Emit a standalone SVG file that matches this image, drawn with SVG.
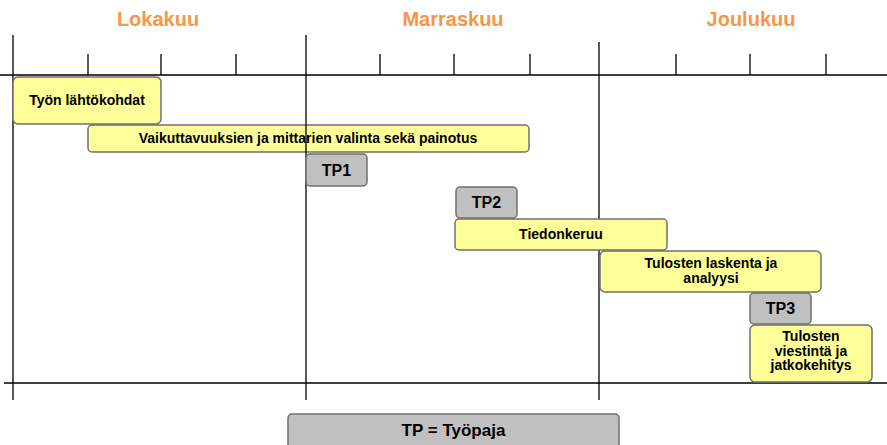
<svg xmlns="http://www.w3.org/2000/svg" width="887" height="445" viewBox="0 0 887 445">
<style>
.month{font-family:"Liberation Sans",Arial,sans-serif;font-weight:bold;font-size:20px;fill:#F79646;text-anchor:middle}
.axis{stroke:#000;stroke-width:1.3;fill:none}
.task rect{fill:#FFFF99;stroke:#707070;stroke-width:1.5}
.tp rect{fill:#C0C0C0;stroke:#707070;stroke-width:1.5}
.task text{font-family:"Liberation Sans",Arial,sans-serif;font-weight:bold;font-size:14px;fill:#000;text-anchor:middle}
.tp text{font-family:"Liberation Sans",Arial,sans-serif;font-weight:bold;font-size:16px;fill:#000;text-anchor:middle}
</style>
<rect width="887" height="445" fill="#fff"/>
<g id="months">
<text class="month" x="158" y="26">Lokakuu</text>
<text class="month" x="453" y="26">Marraskuu</text>
<text class="month" x="751" y="26">Joulukuu</text>
</g>
<g id="task2" class="task">
<rect x="88" y="125" width="441" height="27" rx="4"/>
<text x="308" y="143">Vaikuttavuuksien ja mittarien valinta sekä painotus</text>
</g>
<g id="connectors">
<path class="axis" d="M0 75H887M4 383H887M13 35V400M306 35V400M599 42V400M88 54V75M161 54V75M236 54V75M380 54V75M454 54V75M530 54V75M676 54V75M750 54V75M826 54V75"/>
</g>
<g id="task1" class="task">
<rect x="13" y="77" width="148" height="47" rx="5"/>
<text x="87" y="105">Työn lähtökohdat</text>
</g>
<g id="tp1" class="tp">
<rect x="306" y="154" width="61" height="32" rx="4"/>
<text x="336.5" y="176">TP1</text>
</g>
<g id="tp2" class="tp">
<rect x="456" y="187" width="61" height="31" rx="4"/>
<text x="486.5" y="208">TP2</text>
</g>
<g id="task3" class="task">
<rect x="455" y="219" width="212" height="31" rx="4"/>
<text x="561" y="239">Tiedonkeruu</text>
</g>
<g id="task4" class="task">
<rect x="600" y="251" width="221" height="41" rx="5"/>
<text x="711" y="268">Tulosten laskenta ja</text>
<text x="711" y="282.5">analyysi</text>
</g>
<g id="tp3" class="tp">
<rect x="750" y="293" width="61" height="31" rx="4"/>
<text x="780.5" y="314">TP3</text>
</g>
<g id="task5" class="task">
<rect x="750" y="325" width="122" height="57" rx="5"/>
<text x="811" y="341">Tulosten</text>
<text x="811" y="355.5">viestintä ja</text>
<text x="811" y="370">jatkokehitys</text>
</g>
<g id="legend" class="tp">
<rect x="288" y="414" width="331" height="40" rx="4"/>
<text x="453.5" y="436" style="font-size:17px">TP = Työpaja</text>
</g>
</svg>
